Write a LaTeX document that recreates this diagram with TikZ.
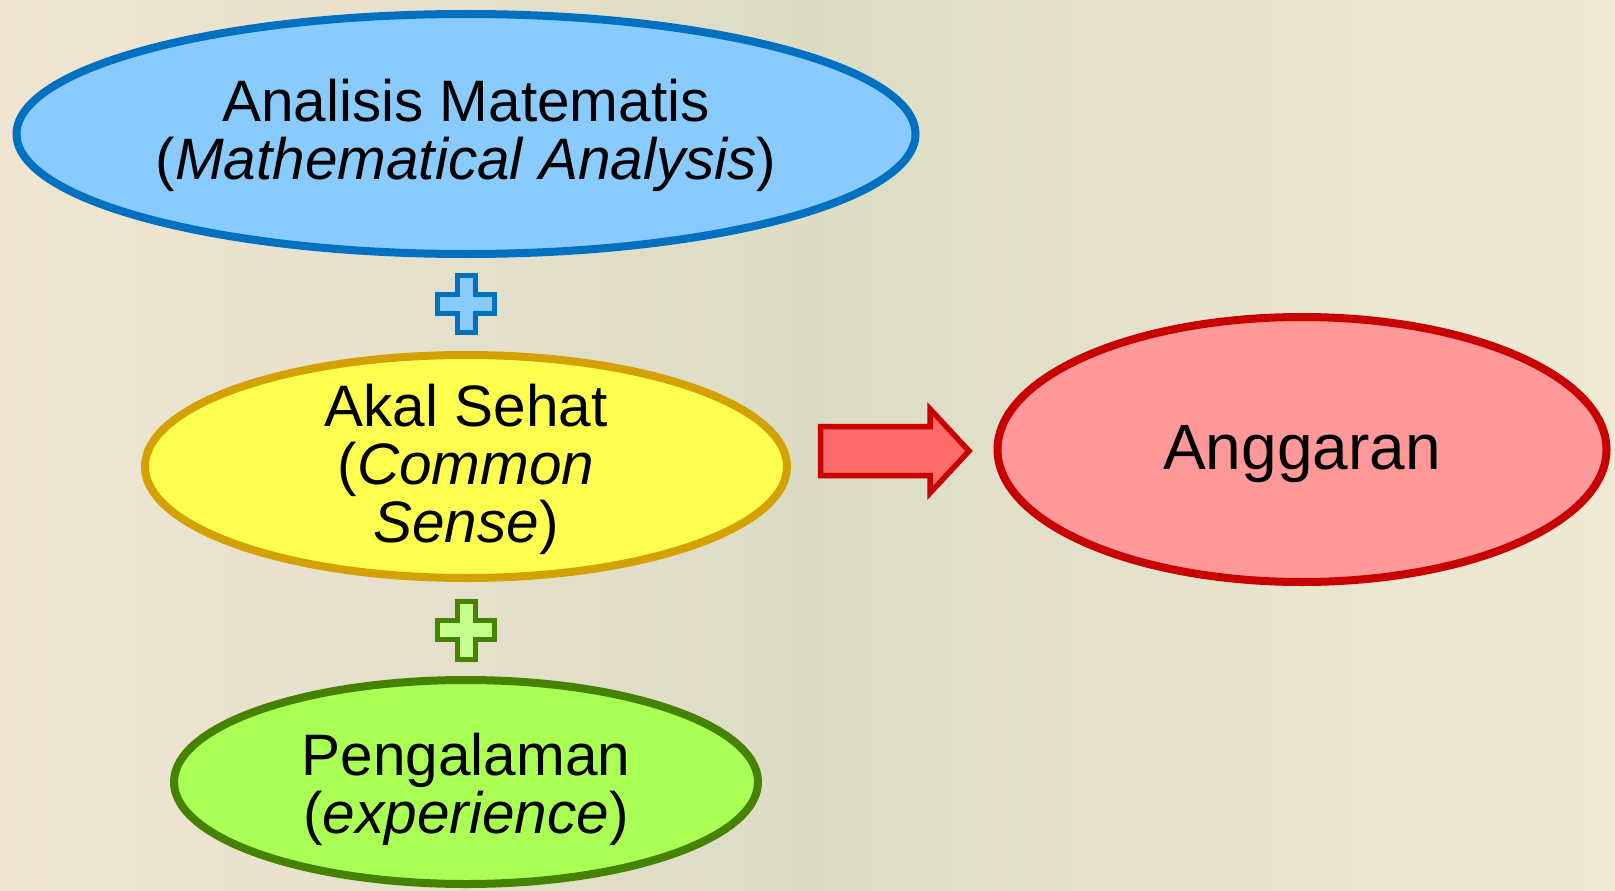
\documentclass[tikz,border=0pt]{standalone}
\usepackage{fontspec}
\setmainfont{Liberation Sans}
\usetikzlibrary{shapes.geometric}
\definecolor{bgL}{HTML}{F0E5D3}
\definecolor{bgM}{HTML}{DCDCC5}
\definecolor{bgR}{HTML}{F0EAD5}
\definecolor{blueF}{HTML}{89CBFF}
\definecolor{blueD}{HTML}{0070C0}
\definecolor{yelF}{HTML}{FFFF50}
\definecolor{yelD}{HTML}{D4A200}
\definecolor{grnF}{HTML}{AAFF55}
\definecolor{grnD}{HTML}{458200}
\definecolor{grnP}{HTML}{C6FF8E}
\definecolor{redF}{HTML}{FF9999}
\definecolor{redD}{HTML}{C80000}
\definecolor{redA}{HTML}{FF6B6B}
\tikzset{
  oval/.style={ellipse, line width=8pt, inner sep=0pt},
  txt/.style={inner sep=0pt, align=center, font=\fontsize{58.5}{58}\selectfont},
  plusmark/.style={line width=5.5pt, line join=miter},
}
\begin{document}
\begin{tikzpicture}[x=1pt,y=-1pt]
\useasboundingbox (0,0) rectangle (1615,891);
\shade[left color=bgL, right color=bgR, middle color=bgM] (0,0) rectangle (1615,891);
\node[oval, draw=blueD, fill=blueF, minimum width=899, minimum height=240] (ana) at (466,134) {};
\node[txt] (anaT) at ([yshift=-1pt]ana.center) {Analisis Matematis\\(\textit{Mathematical Analysis})};
\node[oval, draw=yelD, fill=yelF, minimum width=642, minimum height=223] (akal) at (466,466.5) {};
\node[txt] (akalT) at ([yshift=-3pt]akal.center) {Akal Sehat\\(\textit{Common}\\\textit{Sense})};
\node[oval, draw=grnD, fill=grnF, minimum width=584, minimum height=204] (peng) at (466,782) {};
\node[txt] (pengT) at ([yshift=-7pt]peng.center) {Pengalaman\\(\textit{experience})};
\node[oval, draw=redD, fill=redF, minimum width=609, minimum height=265] (ang) at (1302,449.5) {};
\node[txt, font=\fontsize{64}{64}\selectfont] (angT) at ([yshift=-5pt]ang.center) {Anggaran};
% plus signs
\draw[plusmark, draw=blueD, fill=blueF]
  (457.5,275.5) -- (475.5,275.5) -- (475.5,294.5) -- (494.5,294.5) -- (494.5,313.5)
  -- (475.5,313.5) -- (475.5,332.5) -- (457.5,332.5) -- (457.5,313.5) -- (437.5,313.5)
  -- (437.5,294.5) -- (457.5,294.5) -- cycle;
\draw[plusmark, draw=grnD, fill=grnP]
  (457.5,601.5) -- (475.5,601.5) -- (475.5,620.5) -- (494.5,620.5) -- (494.5,639.5)
  -- (475.5,639.5) -- (475.5,659.5) -- (457.5,659.5) -- (457.5,639.5) -- (437.5,639.5)
  -- (437.5,620.5) -- (457.5,620.5) -- cycle;
% arrow
\draw[line width=5.5pt, draw=redD, fill=redA, line join=miter]
  (820.5,426.5) -- (930,426.5) -- (930,409) -- (969,451) -- (930,493) -- (930,475.5)
  -- (820.5,475.5) -- cycle;
\end{tikzpicture}
\end{document}
